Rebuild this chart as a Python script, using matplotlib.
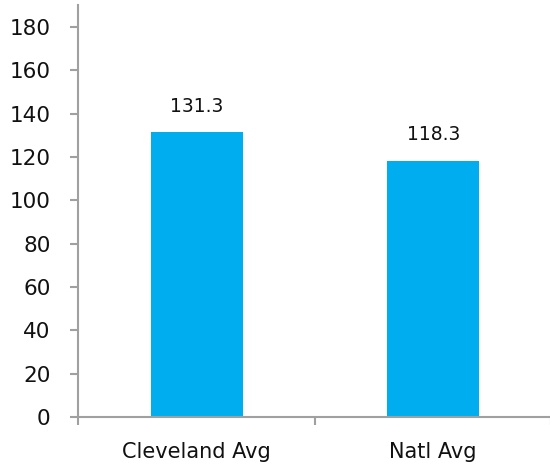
import matplotlib
matplotlib.use("Agg")
import matplotlib.pyplot as plt
import numpy as np

categories = ["Cleveland Avg", "Natl Avg"]
values = [131.3, 118.3]
y_ticks = [0, 20, 40, 60, 80, 100, 120, 140, 160, 180]

plt.rcParams['font.family'] = ['DejaVu Sans']

fig = plt.figure(figsize=(5.5, 4.7), dpi=100)
ax = fig.add_axes([0.1427, 0.1128, 0.86, 0.876])

x = np.arange(len(categories))
bar_color = "#00AEEF"
axis_color = "#A0A0A0"
text_color = "#111111"
ax.bar(x, values, width=0.39, color=bar_color, zorder=2)

for xi, v in zip(x, values):
    ax.text(xi, v + 9.6, f"{v:.1f}", ha="center", va="baseline",
            fontsize=13.5, color=text_color)

ax.set_xlim(-0.5, 1.5)
ax.set_ylim(0, 190)
ax.set_yticks(y_ticks)
ax.set_yticklabels([str(t) for t in y_ticks], fontsize=15.5, color=text_color)

# category labels centred under bars, tick marks at category boundaries
ax.set_xticks([-0.5, 0.5, 1.5])
ax.set_xticklabels([])
ax.set_xticks(x, minor=True)
ax.set_xticklabels(categories, minor=True, fontsize=15, color=text_color)
ax.tick_params(axis="x", which="minor", length=0, pad=18)
ax.tick_params(axis="x", which="major", length=6, width=1.5, color=axis_color, direction="out")
ax.tick_params(axis="y", length=6, width=1.5, color=axis_color, direction="out", pad=14)

for side in ["top", "right"]:
    ax.spines[side].set_visible(False)
for side in ["left", "bottom"]:
    ax.spines[side].set_color(axis_color)
    ax.spines[side].set_linewidth(1.5)

fig.savefig("out.png", dpi=100)
